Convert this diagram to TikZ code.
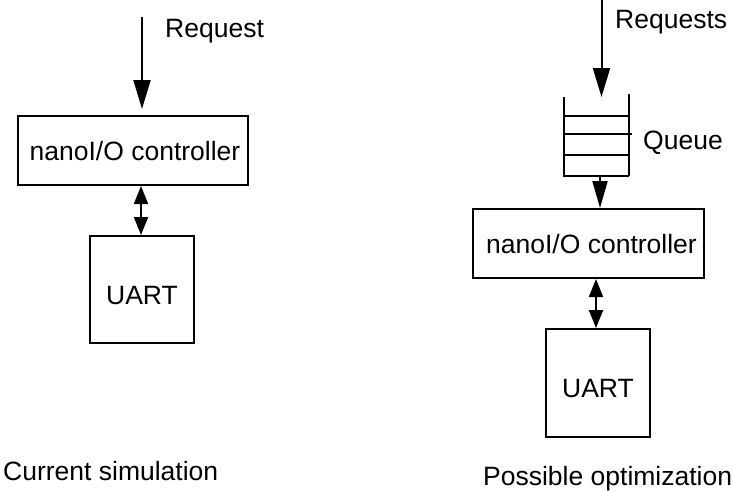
\documentclass[tikz,border=0pt]{standalone}
\usepackage{fontspec}
\setmainfont{Liberation Sans}
\usetikzlibrary{arrows.meta}
\begin{document}
\begin{tikzpicture}[x=1pt,y=-1pt,
  every node/.style={font=\fontsize{26.5}{30}\selectfont},
  box/.style={draw,line width=2pt,inner sep=0pt,text height=19pt,text depth=0pt},
  lbl/.style={anchor=base west,inner sep=0pt},
  conn/.style={line width=2pt},
  bigtip/.style={-{Triangle[length=29pt,width=17pt]}},
  midtip/.style={-{Triangle[length=27pt,width=15pt]}},
  dbltip/.style={{Triangle[length=18pt,width=14pt]}-{Triangle[length=18pt,width=14pt]}}]
\useasboundingbox (0,0) rectangle (733,491);

% left diagram
\node[box,minimum width=230pt,minimum height=69pt] (ctrlL) at (133,150.5) {\hspace*{4pt}nanoI/O controller};
\node[box,minimum width=104pt,minimum height=107pt,text height=29pt] (uartL) at (142,289.5) {UART};
\coordinate (reqL) at (142,17);
\node[lbl] (reqLtxt) at (165,37) {Request};
\draw[conn,bigtip,shorten >=6pt] (reqL) -- (reqL |- ctrlL.north);
\draw[conn,dbltip] ([xshift=-1pt]uartL.north |- ctrlL.south) -- ([xshift=-1pt]uartL.north);
\node[lbl] (capL) at (3,480) {Current simulation};

% right diagram
\coordinate (reqR) at (601.5,0);
\coordinate (qtop) at (601.5,97);
\node[lbl] (reqRtxt) at (615,28) {Requests};
\draw[conn,bigtip] (reqR) -- (qtop);
% queue
\draw[conn] (564,97) -- (564,177);
\draw[conn] (629,94) -- (629,176);
\draw[conn] (565,116) -- (629,116);
\draw[conn] (565,134) -- (632,134);
\draw[conn] (565,155) -- (629,155);
\draw[conn] (565,176) -- (629,176);
\coordinate (qbot) at (600,176);
\node[lbl] (qtxt) at (643,149) {Queue};
\node[box,minimum width=231pt,minimum height=69pt] (ctrlR) at (588.5,243.5) {\hspace*{6pt}nanoI/O controller};
\node[box,minimum width=104pt,minimum height=108pt,text height=28pt] (uartR) at (598,383) {UART};
\draw[conn,midtip] (qbot) -- (qbot |- ctrlR.north);
\draw[conn,dbltip] ([xshift=-2pt]uartR.north |- ctrlR.south) -- ([xshift=-2pt]uartR.north);
\node[lbl] (capR) at (483,485) {Possible optimization};
\end{tikzpicture}
\end{document}
